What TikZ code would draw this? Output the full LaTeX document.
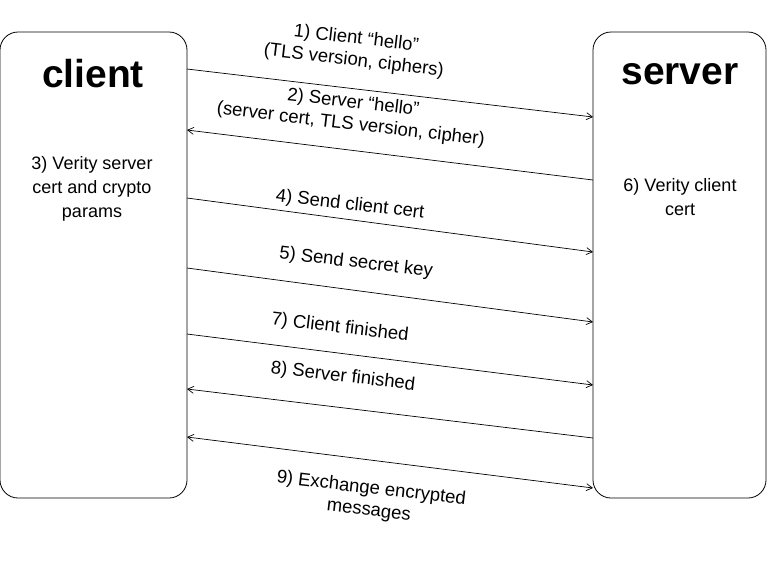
\documentclass[tikz,border=0pt]{standalone}
\usepackage{fontspec}
\setmainfont{Liberation Sans}
\usetikzlibrary{arrows.meta}
\begin{document}
\begin{tikzpicture}[x=1pt,y=-1pt,
 box/.style={draw,rounded corners=18pt,line width=0.8pt},
 msg/.style={-{Straight Barb[length=6pt,width=7pt]},line width=0.7pt},
 lab/.style={font=\fontsize{18.5}{22}\selectfont,align=center,rotate=-6.7,inner sep=0pt},
 title/.style={font=\fontsize{39}{42}\selectfont\bfseries},
 note/.style={font=\fontsize{18}{24}\selectfont,align=center}]
\useasboundingbox (0,0) rectangle (768,574);
\draw[box] (0,32) rectangle (187,498);
\draw[box] (593,32) rectangle (766,498);
\node[title] (ct) at (93,74) {client};
\node[title] (st) at (680,74) {server};
\node[note] (n3) at (92,189) {3) Verity server\\cert and crypto\\params};
\node[note] (n6) at (680,197) {6) Verity client\\cert};
\coordinate (c1) at (187,69); \coordinate (s1) at (593,117);
\coordinate (s2) at (593,180); \coordinate (c2) at (187,130);
\coordinate (c4) at (187,198); \coordinate (s4) at (593,252);
\coordinate (c5) at (187,268); \coordinate (s5) at (593,322);
\coordinate (c7) at (187,334); \coordinate (s7) at (593,385);
\coordinate (s8) at (593,438); \coordinate (c8) at (187,389);
\coordinate (c9) at (187,437); \coordinate (s9) at (593,488);
\draw[msg] (c1) -- (s1);
\draw[msg] (s2) -- (c2);
\draw[msg] (c4) -- (s4);
\draw[msg] (c5) -- (s5);
\draw[msg] (c7) -- (s7);
\draw[msg] (s8) -- (c8);
\draw[msg,{Straight Barb[length=6pt,width=7pt]}-{Straight Barb[length=6pt,width=7pt]}] (c9) -- (s9);
\node[lab] (l1) at (355,50) {1) Client “hello”\\(TLS version, ciphers)};
\node[lab] (l2) at (352,114) {2) Server “hello”\\(server cert, TLS version, cipher)};
\node[lab] (l4) at (350,205) {4) Send client cert};
\node[lab] (l5) at (356,263) {5) Send secret key};
\node[lab] (l7) at (340,328) {7) Client finished};
\node[lab] (l8) at (343,377) {8) Server finished};
\node[lab] (l9) at (370,500) {9) Exchange encrypted\\messages};
\end{tikzpicture}
\end{document}
